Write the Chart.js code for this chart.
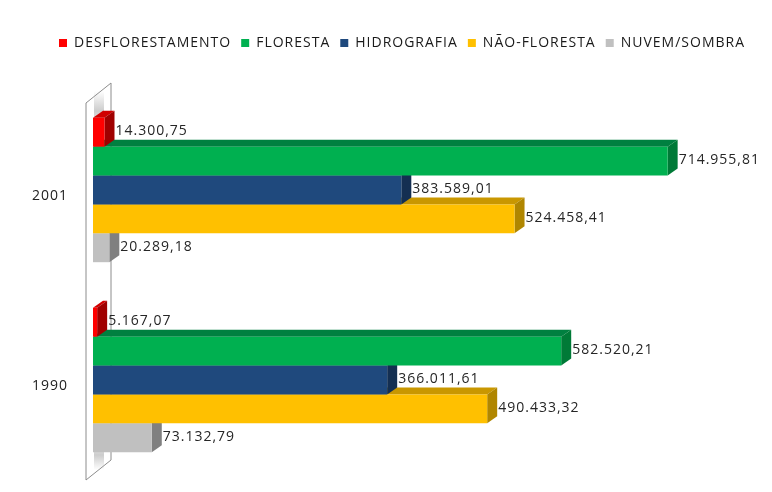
<!DOCTYPE html>
<html><head><meta charset="utf-8">
<script src="https://cdn.jsdelivr.net/npm/chart.js@4"></script>
<style>html,body{margin:0;padding:0;background:#fff}#wrap{width:772px;height:492px;position:relative}</style>
</head><body><div id="wrap"><canvas id="c"></canvas></div>
<script>
const categories = ['2001', '1990'];
const seriesNames = ['DESFLORESTAMENTO', 'FLORESTA', 'HIDROGRAFIA', 'NÃO-FLORESTA', 'NUVEM/SOMBRA'];
const desflorestamento = [14300.75, 5167.07];
const floresta = [714955.81, 582520.21];
const hidrografia = [383589.01, 366011.61];
const naoFloresta = [524458.41, 490433.32];
const nuvemSombra = [20289.18, 73132.79];

const frontColors = ['#FF0000', '#00B050', '#1F497D', '#FFC000', '#C0C0C0'];
const topColors   = ['#D00000', '#008040', '#18395F', '#C99700', '#9A9A9A'];
const sideColors  = ['#A00000', '#007A37', '#142F52', '#B08600', '#808080'];
const DX = 10, DY = 7;
const FONT = 'Open Sans';

function fmt(v) {
  const parts = v.toFixed(2).split('.');
  return parts[0].replace(/\B(?=(\d{3})+(?!\d))/g, '.') + ',' + parts[1];
}

const seriesValues = [desflorestamento, floresta, hidrografia, naoFloresta, nuvemSombra];

const spacing = {
  id: 'spacing',
  beforeLayout(chart) { chart.ctx.letterSpacing = '1px'; },
  beforeDraw(chart) { chart.ctx.letterSpacing = '1px'; }
};

const legendSpace = {
  id: 'legendSpace',
  beforeInit(chart) {
    const lg = chart.legend;
    if (!lg) return;
    const f = lg.fit;
    lg.fit = function () { f.call(this); this.height = 69; };
    const d = lg.draw;
    lg.draw = function () {
      const s = 34;
      this.left += s; this.right += s;
      d.call(this);
      this.left -= s; this.right -= s;
    };
  }
};

const depth3d = {
  id: 'depth3d',
  beforeDatasetsDraw(chart) {
    const ctx = chart.ctx, ca = chart.chartArea;
    const wl = ca.left - 7, wr = ca.left + 18;
    const wt = ca.top + 8, wb = ca.bottom + 5;
    ctx.save();
    ctx.fillStyle = '#ffffff';
    ctx.strokeStyle = '#8c8c8c';
    ctx.lineWidth = 1;
    ctx.beginPath();
    ctx.moveTo(wl, wt); ctx.lineTo(wr, wt - 20); ctx.lineTo(wr, wb - 20); ctx.lineTo(wl, wb);
    ctx.closePath(); ctx.fill(); ctx.stroke();
    let g = ctx.createLinearGradient(0, wt - 12, 0, wt + 28);
    g.addColorStop(0, 'rgba(170,170,170,0)');
    g.addColorStop(0.5, 'rgba(170,170,170,0.6)');
    g.addColorStop(1, 'rgba(170,170,170,0)');
    ctx.fillStyle = g;
    ctx.fillRect(wl + 8, wt - 12, 10, 40);
    g = ctx.createLinearGradient(0, wb - 40, 0, wb - 10);
    g.addColorStop(0, 'rgba(170,170,170,0)');
    g.addColorStop(0.5, 'rgba(170,170,170,0.6)');
    g.addColorStop(1, 'rgba(170,170,170,0)');
    ctx.fillStyle = g;
    ctx.fillRect(wl + 8, wb - 40, 10, 30);
    for (let di = chart.data.datasets.length - 1; di >= 0; di--) {
      const meta = chart.getDatasetMeta(di);
      meta.data.forEach(bar => {
        const p = bar.getProps(['x', 'y', 'base', 'height'], true);
        const top = p.y - p.height / 2, bot = p.y + p.height / 2;
        ctx.fillStyle = topColors[di];
        ctx.beginPath();
        ctx.moveTo(p.base, top); ctx.lineTo(p.base + DX, top - DY);
        ctx.lineTo(p.x + DX, top - DY); ctx.lineTo(p.x, top);
        ctx.closePath(); ctx.fill();
        ctx.fillStyle = sideColors[di];
        ctx.beginPath();
        ctx.moveTo(p.x, top); ctx.lineTo(p.x + DX, top - DY);
        ctx.lineTo(p.x + DX, bot - DY); ctx.lineTo(p.x, bot);
        ctx.closePath(); ctx.fill();
      });
    }
    ctx.restore();
  },
  afterDatasetsDraw(chart) {
    const ctx = chart.ctx;
    ctx.save();
    ctx.letterSpacing = '1px';
    ctx.font = '14px "' + FONT + '"';
    ctx.fillStyle = '#262626';
    ctx.textAlign = 'left';
    ctx.textBaseline = 'middle';
    chart.data.datasets.forEach((ds, di) => {
      chart.getDatasetMeta(di).data.forEach((bar, i) => {
        const p = bar.getProps(['x', 'y'], true);
        ctx.fillText(fmt(ds.data[i]), p.x + DX + 1, p.y - 1);
      });
    });
    ctx.restore();
  }
};

new Chart(document.getElementById('c'), {
  type: 'bar',
  data: {
    labels: categories,
    datasets: seriesNames.map((n, i) => ({
      label: n,
      data: seriesValues[i],
      backgroundColor: frontColors[i],
      borderWidth: 0,
      barPercentage: 1,
      categoryPercentage: 0.76
    }))
  },
  options: {
    indexAxis: 'y',
    responsive: true,
    maintainAspectRatio: false,
    animation: false,
    layout: { padding: { top: 26, right: 36, bottom: 17, left: 0 } },
    scales: {
      x: { display: false, min: 0, max: 800000 },
      y: {
        grid: { display: false, drawTicks: false },
        border: { display: false },
        ticks: { color: '#222', font: { family: FONT, size: 14 }, padding: 25, labelOffset: 6 },
        afterFit(s) { s.width = 93; s.paddingTop = 0; s.paddingBottom = 0; }
      }
    },
    plugins: {
      legend: {
        position: 'top',
        labels: { boxWidth: 8, boxHeight: 8, padding: 10, color: '#1a1a1a', font: { family: FONT, size: 14 } }
      },
      tooltip: { enabled: false }
    }
  },
  plugins: [spacing, legendSpace, depth3d]
});
</script>
</body></html>
